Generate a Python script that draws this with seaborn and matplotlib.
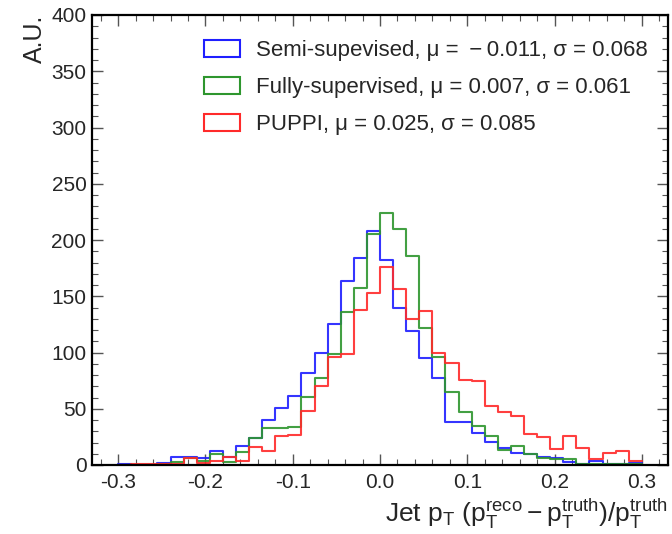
import numpy as np
import pandas as pd
import matplotlib
matplotlib.use("Agg")
import matplotlib.pyplot as plt
from matplotlib.patches import Patch
from matplotlib.ticker import MultipleLocator
import seaborn as sns

# ---- data (bin contents), 40 bins of 0.015 from -0.3 to 0.3
bin_lo = -0.3
bin_hi = 0.3
n_bins = 40

semi = [1, 0, 0, 2, 7, 7, 6.5, 12.7, 7.4, 17,
        24, 40, 51, 61, 82, 100, 125, 164, 184, 208,
        182, 140, 119, 95, 77, 38.5, 38.5, 28.5, 20.7, 15.4,
        11, 9.5, 7.4, 6.2, 3, 1, 3.6, 1, 1, 1.5]
fully = [0, 0, 0, 1, 2.4, 6, 4, 10, 3, 11.3,
         23.7, 32.6, 33, 33.5, 60.7, 77, 98.7, 136, 157, 205,
         224, 210, 186, 122, 96, 64.5, 47, 35, 25.8, 13.3,
         17.2, 9.8, 6.2, 5.3, 5.3, 1, 1, 1, 1, 0.5]
puppi = [0, 0.5, 0.5, 1, 1, 6, 2, 3.5, 7, 4,
         16.3, 12.7, 25.8, 26.7, 48, 70.5, 95.7, 98.7, 138, 153,
         176, 156, 130, 137, 100, 91, 75.5, 74.5, 52.4, 47,
         43.3, 28, 25.2, 14, 25.8, 14.8, 5.3, 10.7, 12.4, 3.6]

labels = ["Semi-supevised, \u03bc = \u2009\u2212\u20090.011, \u03c3 = 0.068",
          "Fully-supervised, \u03bc = 0.007, \u03c3 = 0.061",
          "PUPPI, \u03bc = 0.025, \u03c3 = 0.085"]
colors = ["#1f1fff", "#2e962e", "#ff2a2a"]

x_ticks = [-0.3, -0.2, -0.1, 0.0, 0.1, 0.2, 0.3]
y_ticks = [0, 50, 100, 150, 200, 250, 300, 350, 400]

# ---- style
sns.set_theme(style="ticks")
plt.rcParams["font.family"] = ["Liberation Sans", "DejaVu Sans"]
plt.rcParams["mathtext.fontset"] = "custom"
plt.rcParams["mathtext.rm"] = "Liberation Sans"
plt.rcParams["mathtext.it"] = "Liberation Sans"
plt.rcParams["mathtext.bf"] = "Liberation Sans:bold"

edges = [float(e) for e in np.linspace(bin_lo, bin_hi, n_bins + 1)]
centers = [0.5 * (edges[i] + edges[i + 1]) for i in range(n_bins)]
frames = []
for lab, vals in zip(labels, [semi, fully, puppi]):
    frames.append(pd.DataFrame({"x": centers, "w": vals, "sample": lab}))
df = pd.concat(frames, ignore_index=True)

fig = plt.figure(figsize=(6.72, 5.34), dpi=100)
ax = fig.add_axes([92 / 672, 69 / 534, 576 / 672, 450 / 534])

for lab, col in zip(labels, colors):
    sub = df[df["sample"] == lab]
    sns.histplot(data=sub, x="x", weights="w", bins=edges, element="step",
                 fill=False, color=col, linewidth=1.5, alpha=0.9, ax=ax)

ax.set_xlim(-0.33, 0.33)
ax.set_ylim(0, 400)
ax.set_xticks(x_ticks)
ax.set_xticklabels([f"{t:.1f}" for t in x_ticks])
ax.set_yticks(y_ticks)
ax.xaxis.set_minor_locator(MultipleLocator(0.02))
ax.yaxis.set_minor_locator(MultipleLocator(10))
ax.tick_params(which="both", direction="in", top=True, right=True,
               labelsize=15, color="#555555")
ax.tick_params(axis="y", pad=4)
ax.tick_params(axis="x", pad=6)
ax.tick_params(which="major", length=8, width=1)
ax.tick_params(which="minor", length=4, width=0.8)
for s in ax.spines.values():
    s.set_linewidth(1.6)
    s.set_color("black")

ax.set_ylabel("A.U.", fontsize=18, loc="top", labelpad=3)
ax.set_xlabel(r"Jet $\mathrm{p_{T}}$ $\mathrm{(p_{T}^{reco} - p_{T}^{truth})/p_{T}^{truth}}$",
              fontsize=19, loc="right", labelpad=3)

handles = [Patch(facecolor="none", edgecolor=c, linewidth=1.5) for c in colors]
ax.legend(handles, labels, loc="upper right", bbox_to_anchor=(1.0, 0.99),
          frameon=False, fontsize=16, handlelength=1.6, handleheight=0.8,
          handletextpad=0.75, labelspacing=0.72)

fig.savefig("out.png", dpi=100)
